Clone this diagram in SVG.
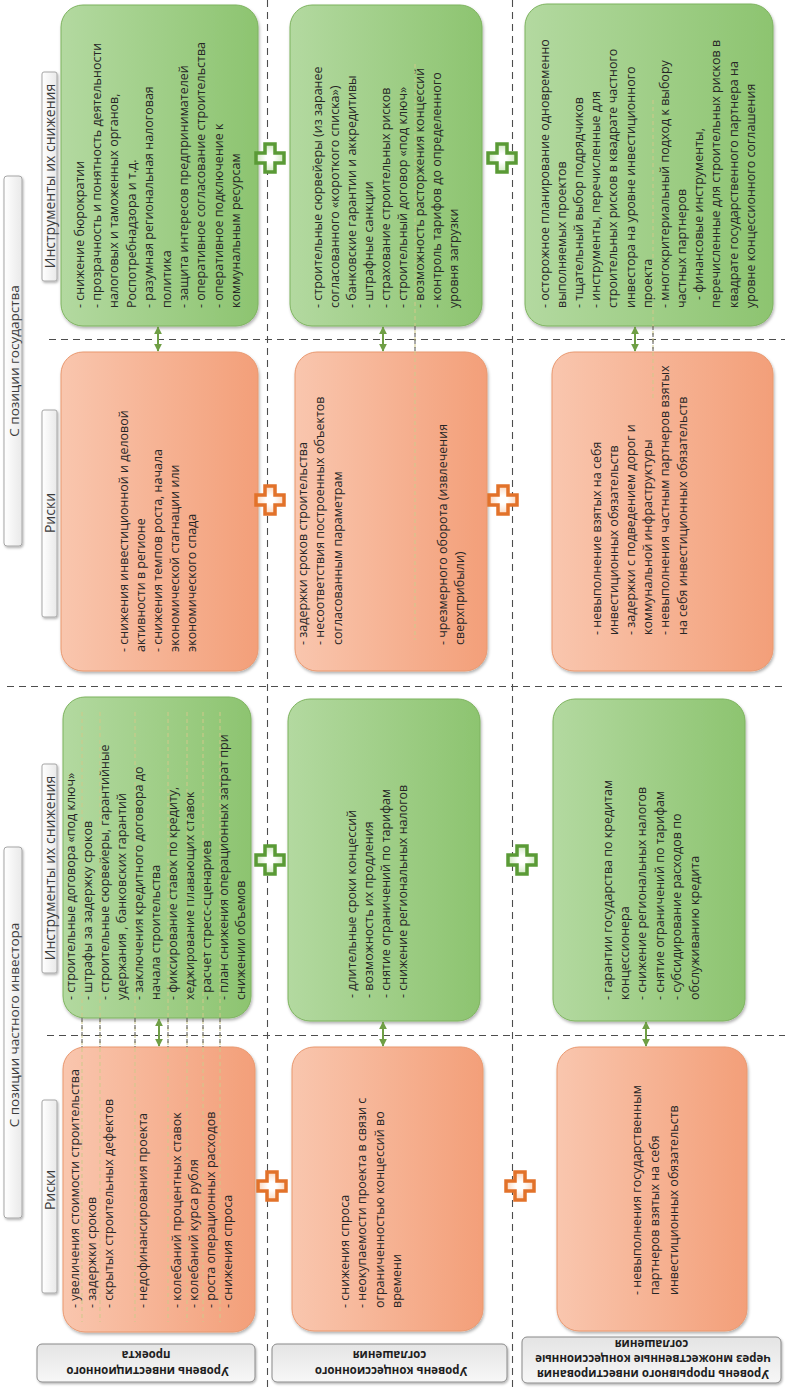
<svg xmlns="http://www.w3.org/2000/svg" width="785" height="1390" viewBox="0 0 785 1390">
<defs>
<style>
.t{font-family:'Open Sans','Noto Sans','DejaVu Sans',sans-serif;font-size:12.5px;fill:#262626}
.h{font-family:'Open Sans','Noto Sans',sans-serif;font-size:13.5px;fill:#3c3c3c}
.sh{font-family:'Open Sans','Noto Sans',sans-serif;font-size:14px;fill:#3c3c3c}
.lb{font-family:'Open Sans','Noto Sans',sans-serif;font-size:11.5px;font-weight:bold;fill:#1e1e1e}
.bg{fill:url(#gG);stroke:#7db35e;stroke-width:1;filter:url(#sh)}
.bo{fill:url(#gO);stroke:#e9986f;stroke-width:1;filter:url(#sh)}
.hb{fill:url(#gH);stroke:#a6a6a6;stroke-width:1;filter:url(#sh2)}
.lbx{fill:url(#gL);stroke:#8a8a8a;stroke-width:1;filter:url(#sh2)}
.dl{fill:none;stroke:#4d4d4d;stroke-width:1.1;stroke-dasharray:7 5}
.fl{fill:none;stroke:#cfc98a;stroke-width:1;stroke-dasharray:4 3}
.fd{fill:none;stroke:#555;stroke-width:1;stroke-dasharray:4 3}
.ar{fill:none;stroke:#6f9f45;stroke-width:2;marker-start:url(#ah);marker-end:url(#ah)}
.pg{fill:url(#cg);stroke:#5a9a36;stroke-width:3.5}
.po{fill:url(#co);stroke:#e2722a;stroke-width:3.5}
</style>
<linearGradient id="gG" x1="0" y1="0" x2="1" y2="0"><stop offset="0" stop-color="#b3d9a0"/><stop offset="1" stop-color="#8dc470"/></linearGradient>
<linearGradient id="gO" x1="0" y1="0" x2="1" y2="0"><stop offset="0" stop-color="#f9c6ae"/><stop offset="1" stop-color="#f39f79"/></linearGradient>
<linearGradient id="gH" x1="0" y1="0" x2="1" y2="0"><stop offset="0" stop-color="#ffffff"/><stop offset="1" stop-color="#e9e9e9"/></linearGradient>
<linearGradient id="gL" x1="0" y1="0" x2="0" y2="1"><stop offset="0" stop-color="#e4e4e4"/><stop offset="1" stop-color="#f7f7f7"/></linearGradient>
<radialGradient id="cg"><stop offset="0.3" stop-color="#ffffff"/><stop offset="1" stop-color="#cfe8bf"/></radialGradient>
<radialGradient id="co"><stop offset="0.3" stop-color="#ffffff"/><stop offset="1" stop-color="#fcd7bd"/></radialGradient>
<filter id="sh" x="-10%" y="-10%" width="120%" height="120%"><feDropShadow dx="1" dy="2" stdDeviation="1.5" flood-color="#000" flood-opacity="0.3"/></filter>
<filter id="sh2" x="-20%" y="-20%" width="140%" height="140%"><feDropShadow dx="1" dy="1.5" stdDeviation="1" flood-color="#000" flood-opacity="0.3"/></filter>
<marker id="ah" viewBox="0 0 10 10" refX="9" refY="5" markerWidth="4" markerHeight="4" orient="auto-start-reverse"><path d="M0,0 L10,5 L0,10 z" fill="#6f9f45"/></marker>
<path id="plus" d="M-5,-14H5V-5H14V5H5V14H-5V5H-14V-5H-5Z"/>
</defs>
<rect width="785" height="1390" fill="#ffffff"/>

<g id="grid">
<path class="dl" d="M267.5,0V1390M512.5,0V1390"/>
<path class="dl" d="M49,339.5H785M7,686.5H785M47,1035.5H785"/>
</g>

<g id="header-gov">
<rect class="hb" x="4" y="176" width="18" height="370" rx="3"/>
<text class="h" text-anchor="middle" transform="translate(18.5,361) rotate(-90)">С позиции государства</text>
</g>
<g id="header-inv">
<rect class="hb" x="4" y="847" width="18" height="371" rx="3"/>
<text class="h" text-anchor="middle" transform="translate(18.5,1025) rotate(-90)">С позиции частного инвестора</text>
</g>
<g id="sub-gov-tools">
<rect class="hb" x="42" y="72" width="15" height="209" rx="2"/>
<text class="sh" text-anchor="middle" transform="translate(54.5,176) rotate(-90)">Инструменты их снижения</text>
</g>
<g id="sub-gov-risks">
<rect class="hb" x="42" y="410" width="15" height="207" rx="2"/>
<text class="sh" text-anchor="middle" transform="translate(54.5,513) rotate(-90)">Риски</text>
</g>
<g id="sub-inv-tools">
<rect class="hb" x="42" y="764" width="15" height="209" rx="2"/>
<text class="sh" text-anchor="middle" transform="translate(54.5,868) rotate(-90)">Инструменты их снижения</text>
</g>
<g id="sub-inv-risks">
<rect class="hb" x="42" y="1100" width="15" height="193" rx="2"/>
<text class="sh" text-anchor="middle" transform="translate(54.5,1190) rotate(-90)">Риски</text>
</g>

<g id="r1-gov-tools">
<rect class="bg" x="61" y="5" width="197" height="321" rx="22"/>
<text class="t" transform="translate(83.5,308) rotate(-90)">
<tspan x="0" y="0">- снижение бюрократии</tspan>
<tspan x="0" dy="17.4">- прозрачность и понятность деятельности</tspan>
<tspan x="0" dy="17.4">налоговых и таможенных органов,</tspan>
<tspan x="0" dy="17.4">Роспотребнадзора и т.д.</tspan>
<tspan x="0" dy="17.4">- разумная региональная налоговая</tspan>
<tspan x="0" dy="17.4">политика</tspan>
<tspan x="0" dy="17.4">- защита интересов предпринимателей</tspan>
<tspan x="0" dy="17.4">- оперативное согласование строительства</tspan>
<tspan x="0" dy="17.4">- оперативное подключение к</tspan>
<tspan x="0" dy="17.4">коммунальным ресурсам</tspan>
</text>
</g>
<g id="r1-gov-risks">
<rect class="bo" x="61" y="352" width="197" height="319" rx="22"/>
<text class="t" transform="translate(127.5,652) rotate(-90)">
<tspan x="0" y="0">- снижения инвестиционной и деловой</tspan>
<tspan x="0" dy="17">активности в регионе</tspan>
<tspan x="0" dy="17">- снижения темпов роста, начала</tspan>
<tspan x="0" dy="17">экономической стагнации или</tspan>
<tspan x="0" dy="17">экономического спада</tspan>
</text>
</g>
<g id="r1-inv-tools">
<rect class="bg" x="63" y="697" width="188" height="321" rx="22"/>
<text class="t" transform="translate(74.5,1000) rotate(-90)">
<tspan x="0" y="0">- строительные договора «под ключ»</tspan>
<tspan x="0" dy="17">- штрафы за задержку сроков</tspan>
<tspan x="0" dy="17">- строительные сюрвейеры, гарантийные</tspan>
<tspan x="0" dy="17">удержания , банковских гарантий</tspan>
<tspan x="0" dy="17">- заключения кредитного договора до</tspan>
<tspan x="0" dy="17">начала строительства</tspan>
<tspan x="0" dy="17">- фиксирование ставок по кредиту,</tspan>
<tspan x="0" dy="17">хеджирование плавающих ставок</tspan>
<tspan x="0" dy="17">- расчет стресс-сценариев</tspan>
<tspan x="0" dy="17">- план снижения операционных затрат при</tspan>
<tspan x="0" dy="17">снижении объемов</tspan>
</text>
</g>
<g id="r1-inv-risks">
<rect class="bo" x="63" y="1047" width="192" height="285" rx="22"/>
<text class="t" transform="translate(78.5,1308) rotate(-90)">
<tspan x="0" y="0">- увеличения стоимости строительства</tspan>
<tspan x="0" dy="17.1">- задержки сроков</tspan>
<tspan x="0" dy="17.1">- скрытых строительных дефектов</tspan>
<tspan x="0" dy="34.2">- недофинансирования проекта</tspan>
<tspan x="0" dy="34.2">- колебаний процентных ставок</tspan>
<tspan x="0" dy="17.1">- колебаний  курса рубля</tspan>
<tspan x="0" dy="17.1">- роста операционных расходов</tspan>
<tspan x="0" dy="17.1">- снижения спроса</tspan>
</text>
</g>

<g id="r2-gov-tools">
<rect class="bg" x="290" y="5" width="192" height="321" rx="22"/>
<text class="t" transform="translate(321.5,308) rotate(-90)">
<tspan x="0" y="0">- строительные сюрвейеры (из заранее</tspan>
<tspan x="0" dy="17.1">согласованного «короткого списка»)</tspan>
<tspan x="0" dy="17.1">- банковские гарантии и аккредитивы</tspan>
<tspan x="0" dy="17.1">- штрафные санкции</tspan>
<tspan x="0" dy="17.1">- страхование строительных рисков</tspan>
<tspan x="0" dy="17.1">- строительный договор «под ключ»</tspan>
<tspan x="0" dy="17.1">- возможность  расторжения концессий</tspan>
<tspan x="0" dy="17.1">- контроль тарифов до определенного</tspan>
<tspan x="0" dy="17.1">уровня загрузки</tspan>
</text>
</g>
<g id="r2-gov-risks">
<rect class="bo" x="295" y="352" width="192" height="319" rx="22"/>
<text class="t" transform="translate(306.5,645) rotate(-90)">
<tspan x="0" y="0">- задержки сроков строительства</tspan>
<tspan x="0" dy="17.5">- несоответствия построенных объектов</tspan>
<tspan x="0" dy="17.5">согласованным параметрам</tspan>
<tspan x="0" dy="105">- чрезмерного оборота (извлечения</tspan>
<tspan x="0" dy="17.5">сверхприбыли)</tspan>
</text>
</g>
<g id="r2-inv-tools">
<rect class="bg" x="288" y="699" width="192" height="322" rx="22"/>
<text class="t" transform="translate(355.5,998) rotate(-90)">
<tspan x="0" y="0">- длительные сроки концессий</tspan>
<tspan x="0" dy="17">- возможность их продления</tspan>
<tspan x="0" dy="17">- снятие ограничений по тарифам</tspan>
<tspan x="0" dy="17">- снижение региональных налогов</tspan>
</text>
</g>
<g id="r2-inv-risks">
<rect class="bo" x="292" y="1047" width="191" height="284" rx="22"/>
<text class="t" transform="translate(348.5,1308) rotate(-90)">
<tspan x="0" y="0">- снижения спроса</tspan>
<tspan x="0" dy="17.5">- неокупаемости проекта в связи с</tspan>
<tspan x="0" dy="17.5">ограниченностью концессий во</tspan>
<tspan x="0" dy="17.5">времени</tspan>
</text>
</g>

<g id="r3-gov-tools">
<rect class="bg" x="525" y="4" width="248" height="322" rx="22"/>
<text class="t" transform="translate(548.5,308) rotate(-90)">
<tspan x="0" y="0">- осторожное планирование одновременно</tspan>
<tspan x="0" dy="17.2">выполняемых проектов</tspan>
<tspan x="0" dy="17.2">- тщательный выбор подрядчиков</tspan>
<tspan x="0" dy="17.2">- инструменты, перечисленные для</tspan>
<tspan x="0" dy="17.2">строительных рисков в квадрате частного</tspan>
<tspan x="0" dy="17.2">инвестора на уровне инвестиционного</tspan>
<tspan x="0" dy="17.2">проекта</tspan>
<tspan x="0" dy="17.2">- многокритериальный подход к выбору</tspan>
<tspan x="0" dy="17.2">частных партнеров</tspan>
<tspan x="8" dy="17.2">- финансовые инструменты,</tspan>
<tspan x="0" dy="17.2">перечисленные для строительных рисков в</tspan>
<tspan x="0" dy="17.2">квадрате государственного партнера на</tspan>
<tspan x="0" dy="17.2">уровне концессионного соглашения</tspan>
</text>
</g>
<g id="r3-gov-risks">
<rect class="bo" x="552" y="352" width="221" height="319" rx="22"/>
<text class="t" transform="translate(600.5,635) rotate(-90)">
<tspan x="0" y="0">- невыполнение взятых на себя</tspan>
<tspan x="0" dy="17.2">инвестиционных обязательств</tspan>
<tspan x="0" dy="17.2">- задержки с подведением дорог и</tspan>
<tspan x="0" dy="17.2">коммунальной инфраструктуры</tspan>
<tspan x="0" dy="17.2">- невыполнения частным партнеров взятых</tspan>
<tspan x="0" dy="17.2">на себя инвестиционных обязательств</tspan>
</text>
</g>
<g id="r3-inv-tools">
<rect class="bg" x="553" y="699" width="192" height="322" rx="22"/>
<text class="t" transform="translate(611.5,1000) rotate(-90)">
<tspan x="0" y="0">- гарантии государства по кредитам</tspan>
<tspan x="0" dy="17.4">концессионера</tspan>
<tspan x="0" dy="17.4">- снижение региональных налогов</tspan>
<tspan x="0" dy="17.4">- снятие ограничений по тарифам</tspan>
<tspan x="0" dy="17.4">- субсидирование расходов по</tspan>
<tspan x="0" dy="17.4">обслуживанию кредита</tspan>
</text>
</g>
<g id="r3-inv-risks">
<rect class="bo" x="557" y="1047" width="190" height="284" rx="22"/>
<text class="t" transform="translate(640.5,1295) rotate(-90)">
<tspan x="0" y="0">- невыполнения государственным</tspan>
<tspan x="0" dy="18.5">партнеров взятых на себя</tspan>
<tspan x="0" dy="18.5">инвестиционных обязательств</tspan>
</text>
</g>

<g id="label-project">
<rect class="lbx" x="37" y="1344" width="218" height="38" rx="5"/>
<text class="lb" text-anchor="middle" transform="translate(146,1366.8) rotate(180)">
<tspan x="0" y="0">Уровень инвестиционного</tspan>
<tspan x="0" dy="16">проекта</tspan>
</text>
</g>
<g id="label-concession">
<rect class="lbx" x="272" y="1344" width="235" height="38" rx="5"/>
<text class="lb" text-anchor="middle" transform="translate(389.5,1366.8) rotate(180)">
<tspan x="0" y="0">Уровень концессионного</tspan>
<tspan x="0" dy="16">соглашения</tspan>
</text>
</g>
<g id="label-breakthrough">
<rect class="lbx" x="522" y="1337" width="259" height="46" rx="5"/>
<text class="lb" text-anchor="middle" transform="translate(651.5,1369.8) rotate(180)">
<tspan x="0" y="0">Уровень прорывного инвестирования</tspan>
<tspan x="0" dy="15">через множественные концессионные</tspan>
<tspan x="0" dy="15">соглашения</tspan>
</text>
</g>

<g id="connectors">
<path class="fl" d="M82,712V1322M100,712V1322M135,712V1322M168,712V1322M187,712V1322M203,712V1322M220,712V1322"/>
<path class="fd" d="M82,1018V1047M100,1018V1047M135,1018V1047M168,1018V1047M187,1018V1047M203,1018V1047M220,1018V1047"/>
<path class="fl" d="M415,64V640M653,100V400"/>
<path class="fd" d="M415,326V352M653,326V352"/>
<path class="ar" d="M158,327V351"/>
<path class="ar" d="M159,1019V1046"/>
<path class="ar" d="M383,327V351"/>
<path class="ar" d="M383,1022V1046"/>
<path class="ar" d="M635,327V351"/>
<path class="ar" d="M646,1022V1046"/>
<use href="#plus" x="270" y="158" class="pg"/>
<use href="#plus" x="502" y="158" class="pg"/>
<use href="#plus" x="270" y="500" class="po"/>
<use href="#plus" x="503" y="500" class="po"/>
<use href="#plus" x="270" y="860" class="pg"/>
<use href="#plus" x="522" y="860" class="pg"/>
<use href="#plus" x="272" y="1186" class="po"/>
<use href="#plus" x="520" y="1186" class="po"/>
</g>
</svg>
